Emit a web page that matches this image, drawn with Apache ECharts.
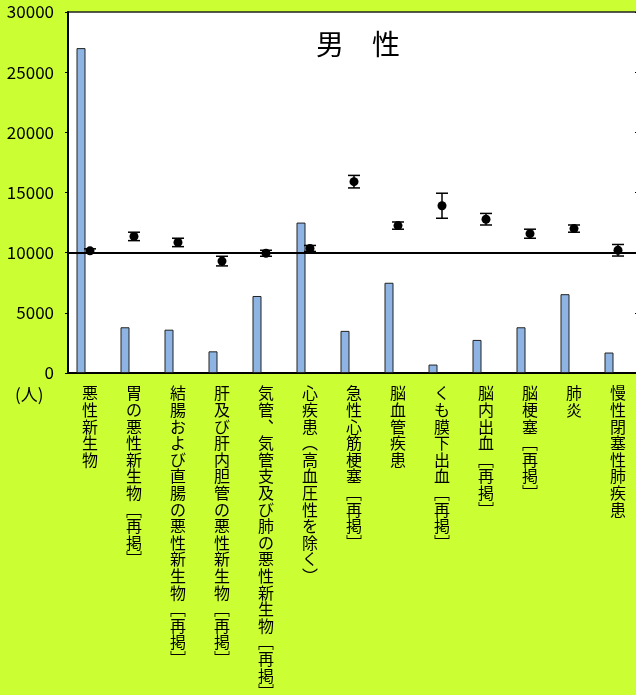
<!DOCTYPE html>
<html>
<head>
<meta charset="utf-8">
<script src="https://cdn.jsdelivr.net/npm/echarts@6/dist/echarts.min.js"></script>
<style>
  html, body { margin: 0; padding: 0; background: #CCFF33; }
  #chart { width: 636px; height: 695px; }
</style>
</head>
<body>
<div id="chart"></div>
<script>
var categories = [
  '悪性新生物',
  '胃の悪性新生物[再掲]',
  '結腸および直腸の悪性新生物[再掲]',
  '肝及び肝内胆管の悪性新生物[再掲]',
  '気管、気管支及び肺の悪性新生物[再掲]',
  '心疾患（高血圧性を除く）',
  '急性心筋梗塞[再掲]',
  '脳血管疾患',
  'くも膜下出血[再掲]',
  '脳内出血[再掲]',
  '脳梗塞[再掲]',
  '肺炎',
  '慢性閉塞性肺疾患'
];
// 死亡数（棒）
var deaths = [27000, 3800, 3600, 1800, 6400, 12500, 3500, 7500, 700, 2750, 3800, 6550, 1700];
// 点と誤差範囲
var points = [10150, 11350, 10850, 9300, 9950, 10350, 15900, 12250, 13900, 12780, 11580, 12000, 10200];
var errLow = [9980, 11000, 10500, 8900, 9700, 10100, 15380, 11950, 12860, 12300, 11200, 11700, 9720];
var errHigh = [10320, 11700, 11200, 9700, 10200, 10600, 16420, 12550, 14940, 13260, 11950, 12300, 10680];
var yTicks = [0, 5000, 10000, 15000, 20000, 25000, 30000];
var refLine = 10000;

var FONT = '"Noto Sans CJK JP", sans-serif';

// 縦書き用に文字を置き換えて1文字ずつ改行
function vertical(s) {
  var map = { '[': '﹇', ']': '﹈', '（': '︵', '）': '︶', '、': '︑' };
  return s.split('').map(function (c) { return map[c] || c; }).join('\n');
}

var chart = echarts.init(document.getElementById('chart'));

var errData = categories.map(function (c, i) { return [i, errLow[i], errHigh[i]]; });

var option = {
  backgroundColor: '#CCFF33',
  animation: false,
  grid: {
    left: 68, top: 12, width: 572, height: 361,
    outerBoundsMode: 'none',
    containLabel: false,
    show: true, backgroundColor: '#fff', borderColor: '#222', borderWidth: 1.5
  },
  graphic: [
    {
      type: 'text', left: 316, top: 30,
      style: { text: '男　性', font: '28px ' + FONT, fill: '#000' }
    },
    {
      type: 'text', left: 15, top: 386,
      style: { text: '(人)', font: '17px ' + FONT, fill: '#000' }
    }
  ],
  xAxis: {
    type: 'category',
    data: categories,
    axisLine: { lineStyle: { color: '#000', width: 2 } },
    axisTick: { inside: true, length: 4, lineStyle: { color: '#333' } },
    axisLabel: {
      interval: 0,
      margin: 12,
      color: '#000',
      fontFamily: FONT,
      fontSize: 16,
      lineHeight: 16.6,
      verticalAlign: 'top',
      formatter: vertical
    }
  },
  yAxis: [
    {
      type: 'value', min: yTicks[0], max: yTicks[yTicks.length - 1], interval: 5000,
      axisLine: { show: true, lineStyle: { color: '#000', width: 2 } },
      axisTick: { show: true, length: 3, lineStyle: { color: '#000' } },
      splitLine: { show: false },
      axisLabel: {
        color: '#000', fontFamily: FONT, fontSize: 17, margin: 14,
        formatter: function (v) { return String(v); }
      }
    },
    {
      type: 'value', min: yTicks[0], max: yTicks[yTicks.length - 1], interval: 5000,
      position: 'right',
      axisLine: { show: true, lineStyle: { color: '#000', width: 1.5 } },
      axisTick: { show: true, inside: true, length: 5, lineStyle: { color: '#000' } },
      splitLine: { show: false },
      axisLabel: { show: false }
    }
  ],
  series: [
    {
      type: 'bar',
      data: deaths,
      barWidth: 9,
      barGap: '100%',
      itemStyle: { color: '#8DB4E2', borderColor: '#222', borderWidth: 1 },
      markLine: {
        silent: true,
        symbol: 'none',
        label: { show: false },
        lineStyle: { color: '#000', width: 2, type: 'solid' },
        data: [{ yAxis: refLine }]
      }
    },
    {
      // 空の系列（棒を左にずらすため）
      type: 'bar',
      data: categories.map(function () { return '-'; }),
      barWidth: 9
    },
    {
      type: 'custom',
      data: errData,
      z: 5,
      renderItem: function (params, api) {
        var x = api.coord([api.value(0), api.value(1)])[0];
        var lo = api.coord([api.value(0), api.value(1)])[1];
        var hi = api.coord([api.value(0), api.value(2)])[1];
        var w = 6;
        var st = { stroke: '#000', lineWidth: 1.5 };
        return {
          type: 'group',
          children: [
            { type: 'line', shape: { x1: x, y1: lo, x2: x, y2: hi }, style: st },
            { type: 'line', shape: { x1: x - w, y1: lo, x2: x + w, y2: lo }, style: st },
            { type: 'line', shape: { x1: x - w, y1: hi, x2: x + w, y2: hi }, style: st }
          ]
        };
      }
    },
    {
      type: 'scatter',
      data: points,
      symbol: 'circle',
      symbolSize: 9,
      z: 6,
      itemStyle: { color: '#000', opacity: 1 }
    }
  ]
};

chart.setOption(option);
</script>
</body>
</html>
